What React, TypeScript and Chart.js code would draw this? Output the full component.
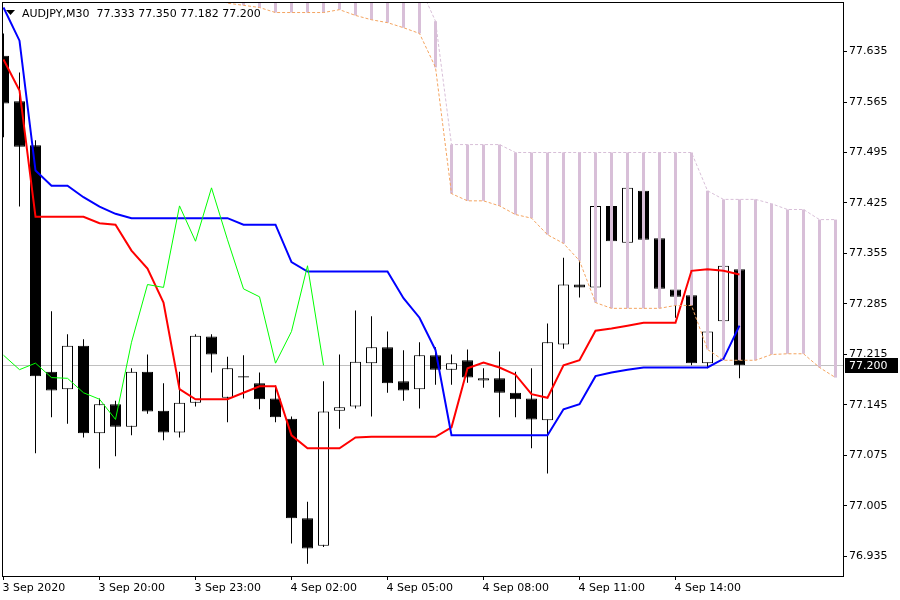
import React, { useEffect, useRef } from "react";
import { Chart, registerables } from "chart.js";

Chart.register(...registerables);

// ---------- data (AUDJPY, M30) ----------
const chartTitle = "AUDJPY,M30  77.333 77.350 77.182 77.200";
const timeLabels = ["3 Sep 2020", "3 Sep 20:00", "3 Sep 23:00", "4 Sep 02:00", "4 Sep 05:00", "4 Sep 08:00", "4 Sep 11:00", "4 Sep 14:00"];
const timeTickBars = [0, 6, 12, 18, 24, 30, 36, 42];
const priceTicks = [76.935, 77.005, 77.075, 77.145, 77.215, 77.285, 77.355, 77.425, 77.495, 77.565, 77.635];
const lastPrice = 77.2;

const opens = [77.629, 77.566, 77.505, 77.191, 77.167, 77.227, 77.106, 77.146, 77.115, 77.191, 77.137, 77.107, 77.148, 77.240, 77.155, 77.185, 77.175, 77.154, 77.126, 76.988, 76.950, 77.137, 77.143, 77.203, 77.225, 77.178, 77.167, 77.214, 77.194, 77.207, 77.179, 77.182, 77.162, 77.154, 77.124, 77.229, 77.312, 77.308, 77.421, 77.370, 77.442, 77.376, 77.305, 77.297, 77.203, 77.261, 77.333];
const highs = [77.660, 77.606, 77.512, 77.275, 77.243, 77.236, 77.154, 77.151, 77.196, 77.215, 77.175, 77.191, 77.243, 77.243, 77.212, 77.214, 77.190, 77.172, 77.129, 77.011, 77.178, 77.215, 77.276, 77.268, 77.247, 77.221, 77.232, 77.225, 77.215, 77.222, 77.196, 77.219, 77.191, 77.196, 77.258, 77.349, 77.366, 77.446, 77.452, 77.460, 77.469, 77.379, 77.308, 77.304, 77.251, 77.343, 77.350];
const lows = [77.516, 77.420, 77.078, 77.128, 77.119, 77.100, 77.057, 77.074, 77.103, 77.133, 77.096, 77.100, 77.143, 77.190, 77.121, 77.154, 77.139, 77.121, 76.953, 76.925, 76.948, 77.112, 77.140, 77.129, 77.162, 77.151, 77.140, 77.173, 77.173, 77.176, 77.169, 77.128, 77.128, 77.085, 77.050, 77.223, 77.294, 77.304, 77.367, 77.365, 77.372, 77.301, 77.266, 77.200, 77.196, 77.257, 77.182];
const closes = [77.563, 77.503, 77.185, 77.165, 77.227, 77.106, 77.146, 77.115, 77.191, 77.136, 77.107, 77.148, 77.241, 77.215, 77.196, 77.183, 77.153, 77.128, 76.988, 76.946, 77.136, 77.142, 77.205, 77.225, 77.175, 77.165, 77.214, 77.194, 77.203, 77.183, 77.182, 77.162, 77.153, 77.125, 77.232, 77.312, 77.308, 77.421, 77.372, 77.446, 77.374, 77.306, 77.295, 77.203, 77.247, 77.338, 77.200];

// Tenkan-sen (red) and Kijun-sen (blue), one value per bar
const tenkan = [77.624, 77.581, 77.406, 77.406, 77.406, 77.406, 77.397, 77.395, 77.359, 77.334, 77.287, 77.167, 77.153, 77.153, 77.153, 77.162, 77.171, 77.171, 77.103, 77.085, 77.085, 77.085, 77.100, 77.101, 77.101, 77.101, 77.101, 77.101, 77.114, 77.196, 77.204, 77.197, 77.187, 77.160, 77.155, 77.200, 77.207, 77.248, 77.251, 77.255, 77.259, 77.259, 77.259, 77.331, 77.333, 77.331, 77.326];
const kijun = [77.696, 77.650, 77.470, 77.449, 77.449, 77.433, 77.420, 77.410, 77.404, 77.404, 77.404, 77.404, 77.404, 77.404, 77.404, 77.395, 77.395, 77.395, 77.343, 77.330, 77.330, 77.330, 77.330, 77.330, 77.330, 77.293, 77.266, 77.221, 77.103, 77.103, 77.103, 77.103, 77.103, 77.103, 77.103, 77.139, 77.146, 77.185, 77.190, 77.194, 77.197, 77.197, 77.197, 77.197, 77.197, 77.209, 77.255];
// Chikou span (green), bars 0..20
const chikou = [77.214, 77.194, 77.203, 77.183, 77.182, 77.162, 77.153, 77.125, 77.232, 77.312, 77.308, 77.421, 77.372, 77.446, 77.374, 77.306, 77.295, 77.203, 77.247, 77.338, 77.200];
// Senkou spans, bars 13..52
const cloudStartBar = 13;
const senkouA = [77.717, 77.702, 77.699, 77.696, 77.689, 77.689, 77.689, 77.689, 77.693, 77.685, 77.679, 77.675, 77.668, 77.660, 77.613, 77.438, 77.428, 77.428, 77.421, 77.409, 77.404, 77.381, 77.369, 77.345, 77.287, 77.279, 77.279, 77.279, 77.279, 77.283, 77.283, 77.222, 77.207, 77.207, 77.207, 77.215, 77.216, 77.216, 77.197, 77.183];
const senkouB = [77.730, 77.730, 77.730, 77.730, 77.730, 77.730, 77.730, 77.730, 77.730, 77.730, 77.730, 77.730, 77.730, 77.726, 77.677, 77.506, 77.506, 77.506, 77.506, 77.495, 77.495, 77.495, 77.495, 77.495, 77.495, 77.495, 77.495, 77.495, 77.495, 77.495, 77.495, 77.442, 77.430, 77.430, 77.430, 77.424, 77.416, 77.416, 77.402, 77.402];

// ---------- view window (16 px per bar, 50.5 px per 0.07) ----------
const X_MIN = -0.09375;
const X_MAX = 52.46875;
const Y_MAX = 77.703614;
const Y_MIN = 76.90797;

const FONT = "DejaVu Sans";

const decorPlugin = {
  id: "mt4Decor",
  beforeDatasetsDraw(chart: any) {
    const { ctx, chartArea: a, scales } = chart;
    const py = Math.round(scales.y.getPixelForValue(lastPrice)) + 0.5;
    ctx.save();
    ctx.strokeStyle = "#C0C0C0";
    ctx.lineWidth = 1;
    ctx.beginPath();
    ctx.moveTo(a.left, py);
    ctx.lineTo(a.right, py);
    ctx.stroke();
    ctx.restore();
  },
  afterDraw(chart: any) {
    const { ctx, chartArea: a, scales } = chart;
    ctx.save();
    ctx.strokeStyle = "#000";
    ctx.lineWidth = 1;
    ctx.strokeRect(a.left + 0.5, a.top + 0.5, a.right - a.left, a.bottom - a.top);
    // title
    ctx.fillStyle = "#000";
    ctx.beginPath();
    ctx.moveTo(6, 10);
    ctx.lineTo(15, 10);
    ctx.lineTo(10.5, 15);
    ctx.closePath();
    ctx.fill();
    ctx.font = `11px "${FONT}"`;
    ctx.textAlign = "left";
    ctx.textBaseline = "alphabetic";
    ctx.fillText(chartTitle, 22, 17);
    // last price label
    const py = Math.round(scales.y.getPixelForValue(lastPrice));
    ctx.fillStyle = "#000";
    ctx.fillRect(845, py - 7, 53, 15);
    ctx.fillStyle = "#fff";
    ctx.textBaseline = "middle";
    ctx.fillText(lastPrice.toFixed(3), 849, py + 1);
    ctx.restore();
  },
};

export default function App() {
  const ref = useRef<HTMLCanvasElement>(null);
  useEffect(() => {
    document.body.style.margin = "0";
    const bars = opens.map((_, i) => i);
    const wickData = bars.map((i) => ({ x: i, y: [lows[i], highs[i]] }));
    const bodyData = bars.map((i) => ({ x: i, y: [opens[i], closes[i]] }));
    const bodyColors = bars.map((i) => (closes[i] >= opens[i] ? "#FFFFFF" : "#000000"));
    const cloudData = senkouA.map((a, k) => ({ x: cloudStartBar + k, y: [a, senkouB[k]] }));
    const spanAData = senkouA.map((v, k) => ({ x: cloudStartBar + k, y: v }));
    const spanBData = senkouB.map((v, k) => ({ x: cloudStartBar + k, y: v }));
    const tenkanData = tenkan.map((v, i) => ({ x: i, y: v }));
    const kijunData = kijun.map((v, i) => ({ x: i, y: v }));
    const chikouData = chikou.map((v, i) => ({ x: i, y: v }));

    const lineBase = { type: "line", pointRadius: 0, tension: 0, fill: false, borderCapStyle: "butt" };
    const barBase = { type: "bar", grouped: false, inflateAmount: 0, borderSkipped: false };

    const chart = new Chart(ref.current as HTMLCanvasElement, {
      type: "line",
      data: {
        datasets: [
          { ...barBase, label: "wicks", data: wickData, backgroundColor: "#000", borderWidth: 0, barThickness: 1, order: 10 },
          { ...barBase, label: "bodies", data: bodyData, backgroundColor: bodyColors, borderColor: "#000", borderWidth: 1, barThickness: 11, order: 9 },
          { ...barBase, label: "cloud", data: cloudData, backgroundColor: "#D8BFD8", borderWidth: 0, barThickness: 3, order: 8 },
          { ...lineBase, label: "Tenkan-sen", data: tenkanData, borderColor: "#FF0000", borderWidth: 2, order: 6 },
          { ...lineBase, label: "Kijun-sen", data: kijunData, borderColor: "#0000FF", borderWidth: 2, order: 5 },
          { ...lineBase, label: "Chikou Span", data: chikouData, borderColor: "#00FF00", borderWidth: 1, order: 4 },
          { ...lineBase, label: "Senkou Span A", data: spanAData, borderColor: "#F4A460", borderWidth: 1, borderDash: [3, 2], order: 3 },
          { ...lineBase, label: "Senkou Span B", data: spanBData, borderColor: "#D8BFD8", borderWidth: 1, borderDash: [3, 2], order: 2 },
        ] as any,
      },
      options: {
        animation: false,
        responsive: false,
        devicePixelRatio: 1,
        events: [],
        layout: { padding: { left: 2, top: 2, right: 0, bottom: 0 } },
        plugins: { legend: { display: false }, tooltip: { enabled: false }, title: { display: false } },
        scales: {
          x: {
            type: "linear",
            min: X_MIN,
            max: X_MAX,
            offset: false,
            afterBuildTicks: (s: any) => {
              s.ticks = timeTickBars.map((v) => ({ value: v }));
            },
            afterFit: (s: any) => {
              s.height = 24;
              s.paddingLeft = 0;
              s.paddingRight = 0;
            },
            grid: { display: true, drawOnChartArea: false, drawTicks: true, tickLength: 4, color: "#000", offset: false },
            border: { display: false },
            ticks: {
              autoSkip: false,
              maxRotation: 0,
              minRotation: 0,
              align: "start",
              padding: 2,
              labelOffset: -1,
              color: "#000",
              font: { family: FONT, size: 11 },
              callback: (_v: any, idx: number) => timeLabels[idx],
            },
          },
          y: {
            type: "linear",
            position: "right",
            min: Y_MIN,
            max: Y_MAX,
            afterBuildTicks: (s: any) => {
              s.ticks = priceTicks.map((v) => ({ value: v }));
            },
            afterFit: (s: any) => {
              s.width = 57;
              s.paddingTop = 0;
              s.paddingBottom = 0;
            },
            grid: { display: true, drawOnChartArea: false, drawTicks: true, tickLength: 4, color: "#000" },
            border: { display: false },
            ticks: {
              padding: 2,
              color: "#000",
              font: { family: FONT, size: 11 },
              callback: (v: any) => Number(v).toFixed(3),
            },
          },
        },
      } as any,
      plugins: [decorPlugin],
    });
    return () => chart.destroy();
  }, []);

  return (
    <div style={{ position: "absolute", left: 0, top: 0, width: 900, height: 600, background: "#fff" }}>
      <canvas ref={ref} width={900} height={600} style={{ display: "block", width: 900, height: 600 }} />
    </div>
  );
}
